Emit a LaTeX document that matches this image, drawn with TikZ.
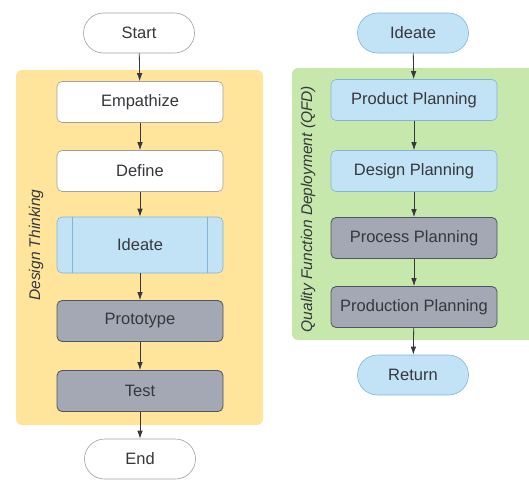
\documentclass[tikz,border=0pt]{standalone}
\usepackage{fontspec}
\setmainfont{Liberation Sans}
\usepackage{tikz}
\usetikzlibrary{arrows.meta,shapes,positioning}
\usepackage{xcolor}
\definecolor{dtyellow}{RGB}{255,229,155}
\definecolor{qfdgreen}{RGB}{199,232,172}
\definecolor{stepblue}{RGB}{194,227,246}
\definecolor{stepblueline}{RGB}{130,180,215}
\definecolor{stepgray}{RGB}{164,168,181}
\definecolor{stepgrayline}{RGB}{80,84,96}
\definecolor{steplineg}{RGB}{160,160,160}
\definecolor{textgray}{RGB}{55,55,60}
\tikzstyle{terminal} = [draw, rounded corners=20pt, minimum width=111pt, minimum height=40pt, text=textgray, font=\fontsize{16.5}{19}\selectfont]
\tikzstyle{process} = [draw, rounded corners=5pt, minimum width=166pt, minimum height=41pt, text=textgray, font=\fontsize{16.5}{19}\selectfont]
\tikzstyle{whitebox} = [fill=white, draw=steplineg, semithick]
\tikzstyle{bluebox} = [fill=stepblue, draw=stepblueline, semithick]
\tikzstyle{graybox} = [fill=stepgray, draw=stepgrayline, thick]
\tikzstyle{arrow} = [line width=0.8pt, -{Latex[length=8pt,width=5.5pt]}, color=textgray]
\tikzstyle{phase} = [rotate=90, text=textgray, font=\fontsize{15.5}{18}\selectfont\itshape]

\begin{document}
\begin{tikzpicture}[x=1pt, y=-1pt]
\useasboundingbox (0,0) rectangle (529,480);

% Background panels
\fill[dtyellow, rounded corners=6pt] (16,70) rectangle (263,425);
\fill[qfdgreen, rounded corners=6pt] (292,68) rectangle (540,340);
\node[phase] (dtlabel) at (36,245) {Design Thinking};
\node[phase] (qfdlabel) at (308,209) {Quality Function Deployment (QFD)};

% Design Thinking steps
\node[terminal, whitebox] (start) at (139,33) {Start};
\node[process, whitebox] (empathize) at (140,102) {Empathize};
\node[process, whitebox] (define) at (140,171) {Define};
\node[process, bluebox, minimum height=56pt] (ideate) at (140,245) {Ideate};
\draw[stepblueline, semithick] ([xshift=16pt]ideate.north west) -- ([xshift=16pt]ideate.south west);
\draw[stepblueline, semithick] ([xshift=-16pt]ideate.north east) -- ([xshift=-16pt]ideate.south east);
\node[process, graybox] (prototype) at (140,321) {Prototype};
\node[process, graybox] (test) at (140,391) {Test};
\node[terminal, whitebox] (end) at (140,459) {End};

% QFD steps
\node[terminal, bluebox] (qideate) at (413,33) {Ideate};
\node[process, bluebox] (product) at (414,100) {Product Planning};
\node[process, bluebox] (design) at (414,171) {Design Planning};
\node[process, graybox] (processp) at (414,238) {Process Planning};
\node[process, graybox] (production) at (414,307) {Production Planning};
\node[terminal, bluebox] (return) at (413,375) {Return};

% Arrows
\draw[arrow] (start) -- (empathize);
\draw[arrow] (empathize) -- (define);
\draw[arrow] (define) -- (ideate);
\draw[arrow] (ideate) -- (prototype);
\draw[arrow] (prototype) -- (test);
\draw[arrow] (test) -- (end);
\draw[arrow] (qideate) -- (product);
\draw[arrow] (product) -- (design);
\draw[arrow] (design) -- (processp);
\draw[arrow] (processp) -- (production);
\draw[arrow] (production) -- (return);
\end{tikzpicture}
\end{document}
